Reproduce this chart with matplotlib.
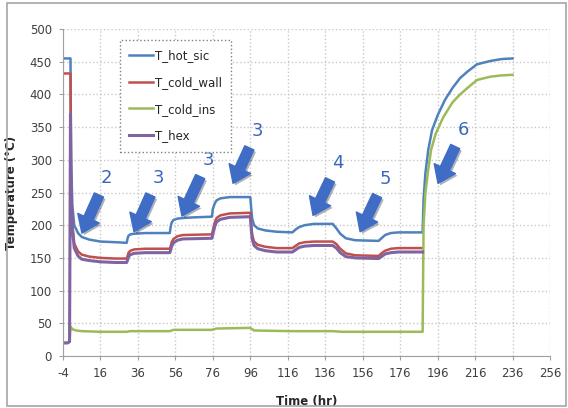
import numpy as np
import matplotlib.pyplot as plt
import matplotlib.patheffects as pe
from matplotlib.patches import Rectangle

plt.rcParams['axes.unicode_minus'] = False

# temperature history, hours vs degC
t_hot = [-4, 0, 0.3, 1, 2, 4, 6, 10, 16, 24, 30, 30.5, 31, 32, 34, 40, 53, 53.5, 54, 55, 57, 60, 66,
         75.5, 76, 77, 78, 80, 85, 96, 96.5, 97, 98, 100, 104, 110, 118.5, 120, 122, 125, 130, 140,
         142, 144, 147, 152, 164.5, 166, 168, 171, 175, 188, 188.5, 189.5, 191, 193, 196, 200, 204,
         208, 212, 217, 224, 230, 236]
T_hot_sic = [455, 455, 300, 230, 200, 188, 182, 178, 175, 174, 173, 180, 184, 186, 187, 188, 188, 198, 204,
             208, 210, 211, 212, 213, 225, 233, 238, 241, 243, 243, 225, 210, 200, 195, 192, 190, 189, 193,
             197, 200, 202, 202, 195, 187, 180, 177, 176, 180, 185, 188, 189, 189, 240, 280, 315, 345, 368,
             392, 410, 425, 435, 446, 451, 454, 455]

t_wall = [-4, 0, 0.3, 1, 2, 4, 6, 10, 16, 24, 30, 30.5, 31, 32, 34, 40, 53, 53.5, 54, 55, 57, 60, 75.5,
          76, 77, 78, 80, 85, 96, 96.5, 97, 98, 100, 104, 110, 118.5, 120, 122, 125, 130, 140, 142, 144,
          147, 152, 164.5, 166, 168, 171, 175, 188]
T_cold_wall = [432, 432, 260, 200, 172, 160, 155, 152, 150, 149, 149, 153, 158, 161, 163, 164, 164, 168, 174,
               179, 183, 185, 186, 192, 204, 211, 215, 218, 219, 200, 185, 175, 170, 167, 165, 165, 168, 172,
               174, 175, 175, 171, 164, 157, 154, 153, 157, 161, 164, 165, 165]

t_ins = [-4, -1.5, -0.5, 0, 1, 3, 6, 16, 30, 32, 53, 55, 75.5, 78, 96, 98, 118, 140, 145, 188, 188.5,
         189.5, 191, 192.5, 195, 199, 204, 208, 212, 217, 224, 230, 236]
T_cold_ins = [20, 20, 22, 45, 41, 39, 38, 37, 37, 38, 38, 40, 40, 42, 43, 39, 38, 38, 37, 37, 200, 250, 285,
              315, 340, 365, 388, 400, 410, 422, 427, 429, 430]

t_hex = [-4, -1.5, -0.5, 0, 0.3, 1, 2, 4, 6, 10, 16, 24, 30, 30.5, 31, 32, 34, 40, 53, 53.5, 54, 55, 57,
         60, 75.5, 76, 77, 78, 80, 85, 96, 96.5, 97, 98, 100, 104, 110, 118.5, 120, 122, 125, 130, 140,
         142, 144, 147, 152, 164.5, 166, 168, 171, 175, 188]
T_hex = [20, 20, 22, 370, 250, 195, 165, 153, 148, 146, 144, 143, 143, 147, 152, 155, 157, 158, 158, 162,
         168, 173, 177, 179, 180, 186, 198, 205, 209, 212, 213, 194, 179, 169, 164, 161, 159, 159, 162,
         166, 168, 169, 169, 165, 158, 152, 150, 149, 152, 156, 158, 159, 159]

# numbered arrows: label, tip (t, T), label position (t, T)
marks = ['2', '3', '3', '3', '4', '5', '6']
tip_t = [6.1, 33.9, 59.5, 86.8, 129.5, 154.6, 196.2]
tip_T = [188, 190, 214, 264, 215, 190, 264]
lab_t = [19.2, 46.7, 73.4, 99.6, 142.8, 167.9, 209.6]
lab_T = [272, 272, 300, 344, 295, 271, 346]

W, H = 568, 408
fig = plt.figure(figsize=(W / 100, H / 100), dpi=100)
ax = fig.add_axes([63 / W, 1 - 356 / H, 487 / W, 327 / H])

fig.patches.append(Rectangle((7 / W, 2 / H), 559 / W, 403 / H, transform=fig.transFigure,
                             fill=False, edgecolor='#a6a6a6', linewidth=1.2))

lw = 1.8
ax.plot(t_hot, T_hot_sic, color='#4f81bd', lw=lw, label='T_hot_sic')
ax.plot(t_wall, T_cold_wall, color='#c0504d', lw=lw, label='T_cold_wall')
ax.plot(t_ins, T_cold_ins, color='#9bbb59', lw=lw, label='T_cold_ins')
ax.plot(t_hex, T_hex, color='#8064a2', lw=lw + 0.4, label='T_hex')

ax.set_xlim(-4, 256)
ax.set_ylim(0, 500)
ax.set_xticks(np.arange(-4, 257, 20))
ax.set_yticks(np.arange(0, 501, 50))
ax.grid(True, color='#c8c8c8', linestyle=':', linewidth=1.0)
ax.set_axisbelow(True)
for s in ['top', 'right']:
    ax.spines[s].set_visible(False)
for s in ['left', 'bottom']:
    ax.spines[s].set_color('#a0a0a0')
ax.tick_params(labelsize=8.5, colors='#404040', length=3, color='#a0a0a0', pad=5)

ax.set_xlabel('Time (hr)', fontsize=8.5, fontweight='bold', color='#262626')
ax.set_ylabel('Temperature (°C)', fontsize=8.5, fontweight='bold', color='#262626')
ax.xaxis.set_label_coords(0.5, -(395 - 356) / 327)
ax.yaxis.set_label_coords(-(63 - 18) / 487, 0.5)

leg = ax.legend(loc='upper left', bbox_to_anchor=((120 - 63) / 487, (356 - 40) / 327),
                borderaxespad=0, fontsize=8.5, fancybox=False, framealpha=1,
                edgecolor='#808080', labelspacing=1.15, handlelength=2.0, handletextpad=0.15,
                borderpad=0.8)
leg.get_frame().set_linestyle(':')
leg.get_frame().set_linewidth(1.0)
for txt in leg.get_texts():
    txt.set_color('#262626')

shadow = [pe.SimplePatchShadow(offset=(1.5, -1.5), alpha=0.35), pe.Normal()]
for m, tx, ty, lx, ly in zip(marks, tip_t, tip_T, lab_t, lab_T):
    ann = ax.annotate(m, xy=(tx, ty), xytext=(lx, ly), fontsize=13, color='#3a66bf',
                      ha='center', va='center',
                      arrowprops=dict(arrowstyle='simple,head_width=1.3,head_length=0.9,tail_width=0.55',
                                      color='#3f6cc4', mutation_scale=13, shrinkA=4, shrinkB=0))
    ann.arrow_patch.set_path_effects(shadow)

fig.savefig('out.png', dpi=100)
